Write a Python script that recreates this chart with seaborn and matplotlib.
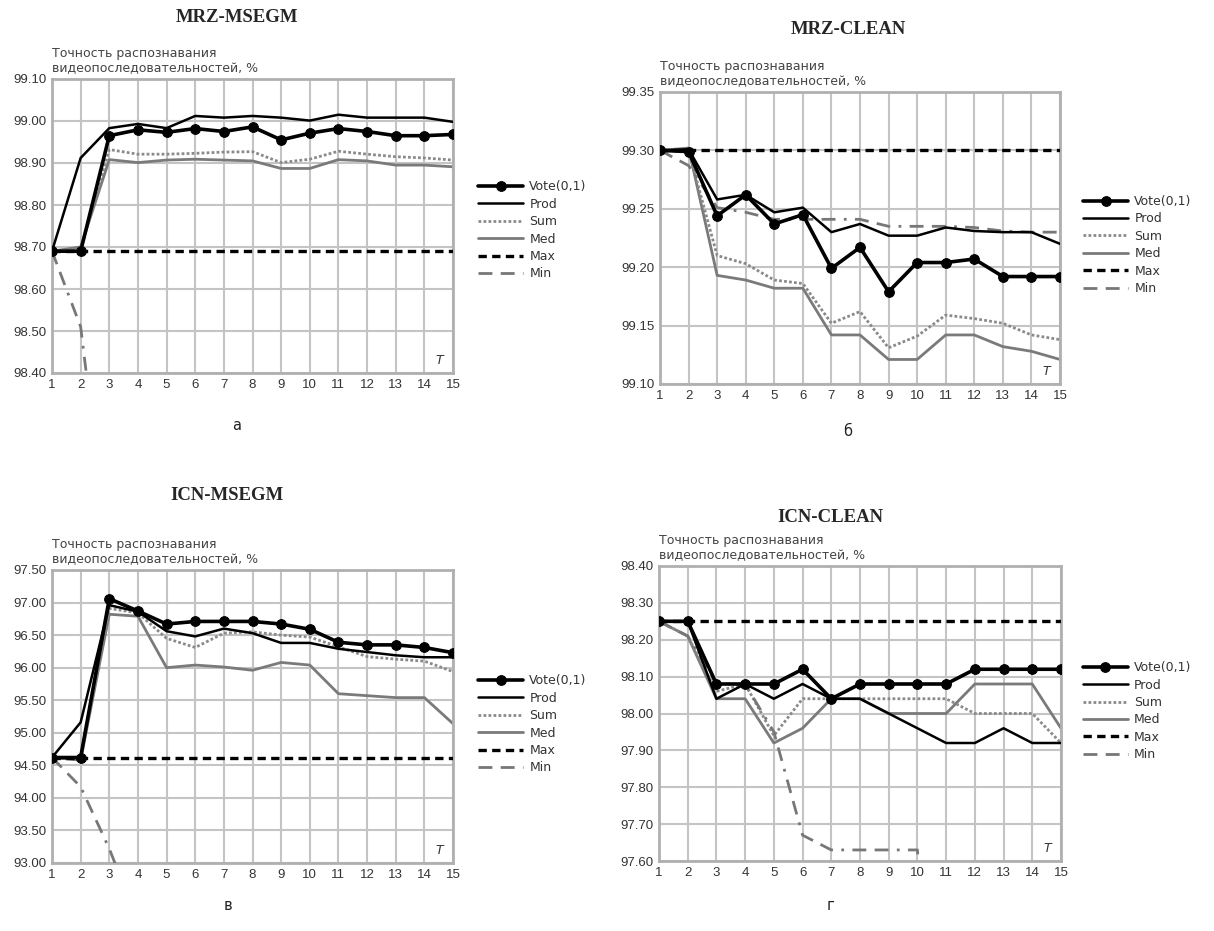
import numpy as np
import pandas as pd
import matplotlib
matplotlib.use("Agg")
import matplotlib.pyplot as plt
import seaborn as sb

# --- data ---
T = list(range(1, 16))
series_names = ["Vote(0,1)", "Prod", "Sum", "Med", "Max", "Min"]

# MRZ-MSEGM
mm_vote = [98.690, 98.690, 98.965, 98.979, 98.973, 98.982, 98.975, 98.986, 98.955, 98.971, 98.982, 98.975, 98.965, 98.965, 98.968]
mm_prod = [98.690, 98.912, 98.983, 98.993, 98.983, 99.012, 99.008, 99.012, 99.008, 99.001, 99.015, 99.008, 99.008, 99.008, 98.998]
mm_sum = [98.690, 98.695, 98.932, 98.921, 98.921, 98.923, 98.926, 98.927, 98.901, 98.909, 98.928, 98.921, 98.915, 98.912, 98.907]
mm_med = [98.690, 98.700, 98.908, 98.901, 98.907, 98.909, 98.907, 98.905, 98.887, 98.887, 98.908, 98.905, 98.895, 98.895, 98.891]
mm_max = [98.690, 98.690, 98.690, 98.690, 98.690, 98.690, 98.690, 98.690, 98.690, 98.690, 98.690, 98.690, 98.690, 98.690, 98.690]
mm_min = [98.690, 98.510, 97.950, 97.900, 97.900, 97.900, 97.900, 97.900, 97.900, 97.900, 97.900, 97.900, 97.900, 97.900, 97.900]

# MRZ-CLEAN
mc_vote = [99.300, 99.299, 99.244, 99.262, 99.237, 99.245, 99.199, 99.217, 99.179, 99.204, 99.204, 99.207, 99.192, 99.192, 99.192]
mc_prod = [99.300, 99.301, 99.258, 99.262, 99.247, 99.251, 99.230, 99.237, 99.227, 99.227, 99.234, 99.231, 99.230, 99.230, 99.220]
mc_sum = [99.300, 99.300, 99.210, 99.203, 99.189, 99.186, 99.152, 99.162, 99.131, 99.141, 99.159, 99.156, 99.152, 99.142, 99.138]
mc_med = [99.300, 99.302, 99.193, 99.189, 99.182, 99.182, 99.142, 99.142, 99.121, 99.121, 99.142, 99.142, 99.132, 99.128, 99.121]
mc_max = [99.300, 99.300, 99.300, 99.300, 99.300, 99.300, 99.300, 99.300, 99.300, 99.300, 99.300, 99.300, 99.300, 99.300, 99.300]
mc_min = [99.300, 99.287, 99.251, 99.247, 99.241, 99.241, 99.241, 99.241, 99.235, 99.235, 99.235, 99.234, 99.231, 99.230, 99.230]

# ICN-MSEGM
im_vote = [94.62, 94.62, 97.06, 96.87, 96.67, 96.71, 96.71, 96.71, 96.67, 96.59, 96.39, 96.35, 96.35, 96.31, 96.23]
im_prod = [94.62, 95.16, 96.96, 96.86, 96.56, 96.48, 96.60, 96.53, 96.38, 96.38, 96.29, 96.24, 96.19, 96.16, 96.16]
im_sum = [94.62, 94.62, 96.91, 96.84, 96.45, 96.31, 96.53, 96.55, 96.50, 96.47, 96.32, 96.17, 96.13, 96.10, 95.94]
im_med = [94.62, 94.58, 96.82, 96.79, 96.00, 96.04, 96.01, 95.96, 96.08, 96.04, 95.60, 95.57, 95.54, 95.54, 95.14]
im_max = [94.62, 94.62, 94.62, 94.62, 94.62, 94.62, 94.62, 94.62, 94.62, 94.62, 94.62, 94.62, 94.62, 94.62, 94.62]
im_min = [94.62, 94.17, 93.22, 92.10, 92.00, 92.00, 92.00, 92.00, 92.00, 92.00, 92.00, 92.00, 92.00, 92.00, 92.00]

# ICN-CLEAN
ic_vote = [98.25, 98.25, 98.08, 98.08, 98.08, 98.12, 98.04, 98.08, 98.08, 98.08, 98.08, 98.12, 98.12, 98.12, 98.12]
ic_prod = [98.25, 98.25, 98.04, 98.08, 98.04, 98.08, 98.04, 98.04, 98.00, 97.96, 97.92, 97.92, 97.96, 97.92, 97.92]
ic_sum = [98.25, 98.21, 98.06, 98.08, 97.94, 98.04, 98.04, 98.04, 98.04, 98.04, 98.04, 98.00, 98.00, 98.00, 97.92]
ic_med = [98.25, 98.21, 98.04, 98.04, 97.92, 97.96, 98.04, 98.04, 98.00, 98.00, 98.00, 98.08, 98.08, 98.08, 97.96]
ic_max = [98.25, 98.25, 98.25, 98.25, 98.25, 98.25, 98.25, 98.25, 98.25, 98.25, 98.25, 98.25, 98.25, 98.25, 98.25]
ic_min = [98.25, 98.21, 98.08, 98.08, 97.95, 97.67, 97.63, 97.63, 97.63, 97.63, 96.50, 96.50, 96.50, 96.50, 96.50]

panel_titles = ["MRZ-MSEGM", "MRZ-CLEAN", "ICN-MSEGM", "ICN-CLEAN"]
panel_letters = ["а", "б", "в", "г"]
y_ticks = [
    [98.40, 98.50, 98.60, 98.70, 98.80, 98.90, 99.00, 99.10],
    [99.10, 99.15, 99.20, 99.25, 99.30, 99.35],
    [93.00, 93.50, 94.00, 94.50, 95.00, 95.50, 96.00, 96.50, 97.00, 97.50],
    [97.60, 97.70, 97.80, 97.90, 98.00, 98.10, 98.20, 98.30, 98.40],
]
ylabel = "Точность распознавания\nвидеопоследовательностей, %"

panel_data = [
    [mm_vote, mm_prod, mm_sum, mm_med, mm_max, mm_min],
    [mc_vote, mc_prod, mc_sum, mc_med, mc_max, mc_min],
    [im_vote, im_prod, im_sum, im_med, im_max, im_min],
    [ic_vote, ic_prod, ic_sum, ic_med, ic_max, ic_min],
]

# line styles for each series
styles = {
    "Vote(0,1)": dict(color="black", lw=2.6, ls="-", marker="o", markersize=7, zorder=6),
    "Prod": dict(color="black", lw=1.8, ls="-", zorder=4),
    "Sum": dict(color="#8a8a8a", lw=2.0, ls=(0, (1, 0.8)), zorder=3),
    "Med": dict(color="#7a7a7a", lw=2.0, ls="-", zorder=2),
    "Max": dict(color="black", lw=2.4, ls=(0, (2.5, 1.6)), zorder=5),
    "Min": dict(color="#777777", lw=2.0, ls=(0, (5, 3, 5, 3, 1, 3)), zorder=3),
}

sb.set_style("white")
plt.rcParams['font.family'] = ['DejaVu Sans']

fig = plt.figure(figsize=(12.14, 9.31), dpi=100)
W, H = 1214, 931
# axes boxes in pixels: left, top, right, bottom
boxes = [(52, 79, 453, 373), (660, 92, 1060, 384), (52, 570, 453, 863), (659, 566, 1061, 861)]
legend_anchor = [(1.05, 0.485), (1.045, 0.476), (1.05, 0.473), (1.042, 0.508)]
title_pos = [(237, 18), (848, 30), (227, 495), (830, 518)]
letter_pos = [(237, 425), (848, 432), (228, 905), (830, 905)]

for i in range(4):
    l, t, r, b = boxes[i]
    ax = fig.add_axes([l / W, 1 - b / H, (r - l) / W, (b - t) / H])
    df = pd.DataFrame({"T": T})
    for name, vals in zip(series_names, panel_data[i]):
        df[name] = vals
    for name in series_names:
        st = styles[name]
        sb.lineplot(data=df, x="T", y=name, ax=ax, label=name, estimator=None,
                    color=st["color"], linewidth=st["lw"], linestyle=st["ls"],
                    marker=st.get("marker"), markersize=st.get("markersize", 0),
                    markeredgecolor=st["color"], zorder=st["zorder"])
    yt = y_ticks[i]
    ax.set_xlim(1, 15)
    ax.set_ylim(yt[0], yt[-1])
    ax.set_xticks(T)
    ax.set_yticks(yt)
    ax.set_yticklabels(["%.2f" % v for v in yt])
    ax.grid(True, color="#c4c4c4", lw=1.5)
    ax.set_axisbelow(True)
    for sp in ax.spines.values():
        sp.set_color("#b0b0b0")
        sp.set_linewidth(2)
    ax.tick_params(length=0, labelsize=9.5, colors="#333333", pad=4)
    for lab in ax.get_xticklabels() + ax.get_yticklabels():
        lab.set_fontfamily("Liberation Sans")
    ax.set_xlabel("")
    ax.set_ylabel("")
    ax.text(0.0, 1.012, ylabel, transform=ax.transAxes, ha="left", va="bottom",
            fontsize=9, color="#444444", linespacing=1.2)
    ax.text(1 - 14 / (r - l), 0.02, "T", transform=ax.transAxes, ha="center", va="bottom",
            fontsize=9, style="italic", color="#333333")
    ax.legend(loc="center left", bbox_to_anchor=legend_anchor[i], frameon=False,
              borderaxespad=0, handlelength=3.6, handletextpad=0.5, labelspacing=0.35,
              fontsize=9, labelcolor="#333333")
    fig.text(title_pos[i][0] / W, 1 - title_pos[i][1] / H, panel_titles[i], ha="center", va="center",
             fontsize=13.5, fontweight="bold", fontfamily="Liberation Serif")
    fig.text(letter_pos[i][0] / W, 1 - letter_pos[i][1] / H, panel_letters[i], ha="center", va="center",
             fontsize=10.5, color="#222222")

fig.savefig("out.png", dpi=100)
